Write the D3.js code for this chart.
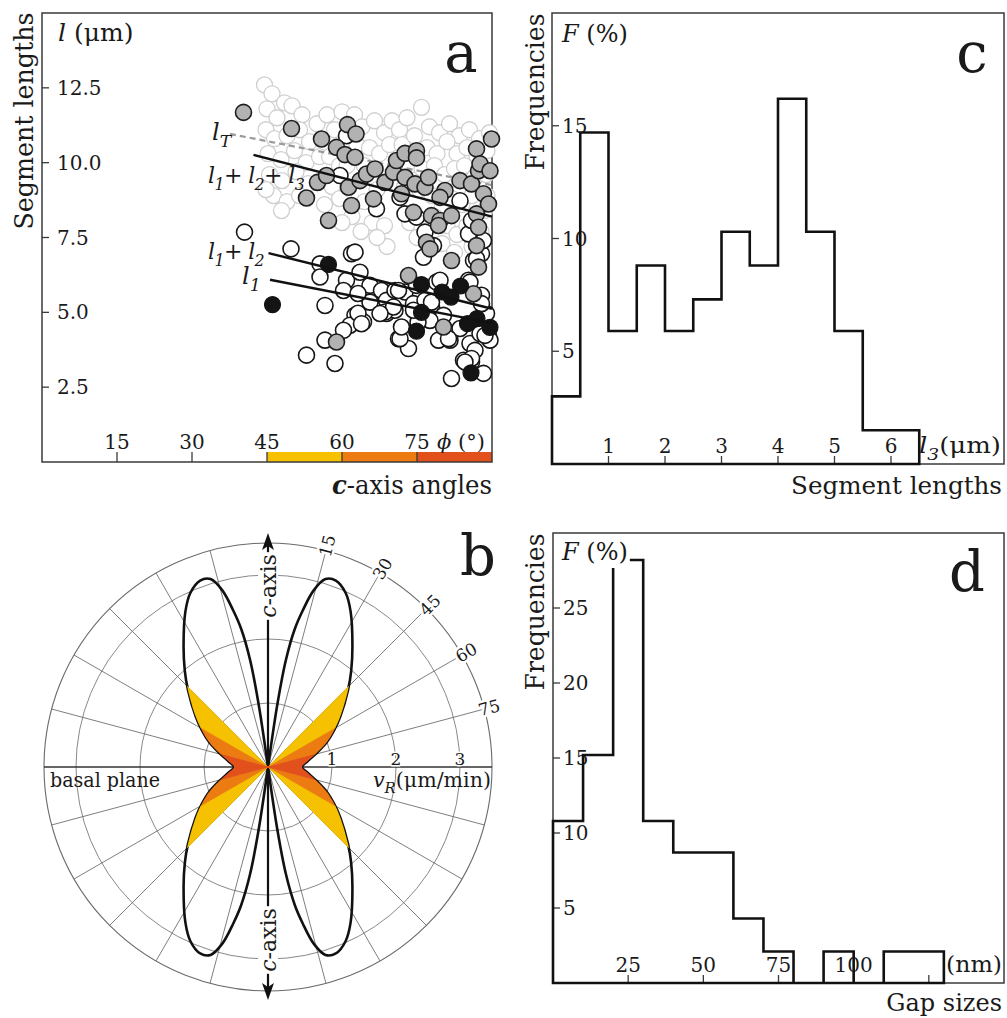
<!DOCTYPE html>
<html><head><meta charset="utf-8">
<script src="https://cdn.jsdelivr.net/npm/d3@7"></script>
<style>
body{margin:0;background:#fff}
svg{display:block}
text{font-family:"DejaVu Serif",serif;fill:#1a1a1a}
</style>
</head><body>
<svg id="chart" width="1007" height="1018"></svg>
<script>
// ---------- Panel a : segment lengths vs c-axis angle ----------
const aXTicks = [15, 30, 45, 60, 75];
const aYTicks = [2.5, 5.0, 7.5, 10.0, 12.5];
const angleClasses = [[45, 60], [60, 75], [75, 90]];
const classColors = ["#f6c100", "#ec7c12", "#e2501c"];
// l_T measurements (faint)
const faintPts = [[44.5,12.6],[46,12.3],[48.5,12.0],[45,11.8],[47,11.5],[50,11.9],[52,11.6],[44.8,11.1],[46.5,10.8],[49,10.9],[51.5,11.1],[53.5,10.7],[55,11.3],[57,11.6],[45.2,10.3],[47.8,10.1],[50.5,10.4],[52.8,10.0],[55.5,10.2],[45.5,9.6],[48,9.4],[50.8,9.7],[53.2,9.3],[46.3,8.9],[49,8.7],[47.9,8.4],[51.5,8.9],[44.8,9.1],
[58.5,11.1],[60,11.7],[62.5,11.6],[64,11.2],[66.5,11.4],[68.5,11.0],[70,11.4],[57.5,10.2],[59.5,9.9],[63,10.6],[65.5,10.5],[67.5,10.3],[69.5,10.6],[58,9.2],[61,9.9],[64.5,9.9],[67,9.1],[69,9.5],[56.5,8.6],[59.5,8.8],[62,8.2],[64.5,8.7],[66,8.0],[68.5,7.9],[60,8.0],[63.8,7.7],[69,7.2],[67,7.5],
[71.5,11.1],[73,11.5],[75.9,11.85],[77.5,11.2],[79.5,11.0],[81.5,11.3],[83.5,10.9],[85.5,11.1],[87.5,10.8],[89.5,11.0],[72,10.6],[74.5,10.9],[77,10.5],[79,10.3],[81,10.7],[83,10.3],[85,10.5],[87,10.2],[89,10.4],[71,9.9],[73.5,9.9],[76,9.8],[78.5,9.9],[80.5,9.6],[82.5,9.8],[84.5,9.9],[86.5,9.5],[88.8,9.6],[72.5,9.2],[75.5,9.1],[78,8.9],[80,8.5],[82,8.8],[84,8.6],[86,8.9],[88.5,8.4],[73.5,8.0],[76,7.8],[78.5,8.2],[81,7.9],[83,7.6],[85,7.9],[87.8,7.7],[80,7.3],[82.5,7.0],[75,7.5],[86,7.2],[89,8.9]];
// l1+l2 measurements (open)
const openPts = [[40.5,7.68],[49.8,7.12],[55.6,6.62],[61.9,6.96],[55.6,6.18],[60.9,6.07],[63.6,6.34],[65.6,5.9],[60.3,5.73],[56.6,5.23],[65.6,5.34],[67.9,5.73],[68.9,5.4],[62.6,4.9],[61.6,4.57],[60.3,4.4],[64.3,4.68],[68.9,4.96],[70.6,5.07],[71.3,4.12],[73.3,3.79],[56.6,4.07],[52.9,3.57],[58.6,3.29],[70.6,5.73],[72.6,5.68],[74.3,5.29],[77.6,5.62],[78.9,6.01],[77.9,5.18],[80.3,4.9],[77.6,4.73],[79.3,4.07],[81.6,4.07],[81.9,2.79],[84.3,3.4],[85.9,3.34],[88.3,2.96],[85.6,3.96],[87.6,4.29],[88.9,4.96],[87.6,5.51],[85.3,6.07],[86.3,6.73],[87.9,6.96],[88.3,7.4],[85.3,7.62],[85.9,8.07],[83.6,8.73],[76.6,7.68],[78.3,7.23],[76.3,6.84],[72.6,8.29],[66.9,8.46],[71.6,8.84],[59.6,9.57],[60.9,10.9],[74.9,8.18],[89.3,4.23],[83.6,4.46],[89.6,4.07],[86.6,3.73],[75.2,4.67],[76.6,5.4],[62.6,7.01],[63.2,5.63],[63.2,4.97],[63.9,4.62],[68.6,5.01],[70.3,5.18],[71.3,5.73],[71.6,4.12],[79.6,6.07],[77.9,5.34],[81.3,4.12],[85.6,6.01],[87.9,5.57],[85.9,3.46],[84.6,3.34],[74.9,5.9],[74.3,5.07],[86.9,6.79],[87.9,5.29],[88.6,4.23],[67.6,4.96],[71.9,4.51]];
// l1+l2+l3 measurements (grey)
const greyPts = [[40.3,11.68],[49.9,11.14],[55.9,10.79],[61.1,11.27],[62.8,10.96],[58.9,10.51],[60.6,10.27],[62.6,10.18],[55.1,9.34],[56.9,9.57],[52.9,8.82],[57.3,8.07],[61.3,9.18],[61.9,8.57],[63.6,9.4],[64.9,9.62],[66.6,9.79],[66.3,8.79],[68.6,9.34],[70.3,9.68],[70.9,10.07],[72.6,10.31],[74.9,10.4],[74.9,10.16],[72.6,9.51],[71.9,8.96],[74.6,9.29],[76.6,9.18],[77.3,9.51],[74.3,8.34],[77.9,8.23],[79.6,8.07],[81.9,8.23],[80.6,9.07],[83.6,9.4],[85.9,9.29],[87.3,9.73],[86.9,10.46],[89.9,10.79],[87.6,9.96],[89.6,9.73],[88.3,8.96],[89.3,8.62],[86.9,8.29],[87.3,7.84],[86.9,7.23],[76.9,7.34],[77.6,7.12],[81.9,6.73],[87.3,6.51],[73.3,6.23],[86.3,5.62],[80.3,4.51],[58.9,4.01],[79.3,7.9],[79.6,8.84]];
// l1 measurements (black)
const blackPts = [[46.1,5.26],[57.3,6.6],[75.9,5.93],[75.9,5.0],[74.9,4.37],[80.0,5.68],[81.8,5.51],[83.7,5.88],[85.1,4.62],[87.0,4.79],[89.6,4.5],[85.8,2.98]];
// regression lines [x0,y0,x1,y1]
const lineLT = [37.6, 10.96, 90, 9.25];
const line123 = [42.3, 10.26, 90, 8.2];
const line12 = [45.3, 6.98, 90, 5.12];
const line1 = [45.6, 6.09, 90, 4.64];

// ---------- Panel b : polar growth rates ----------
const ringValues = [1, 2, 3];
const outerRing = 3.5;
const spokeAngles = d3.range(15, 360, 15).filter(a => a % 90 !== 0);
const angleLabels = [15, 30, 45, 60, 75];
const radialLabels = [1, 2, 3];
const lobePhi = [7, 8.5, 9.5, 11, 12.5, 14.5, 17, 20, 24, 28, 35, 41, 46, 55, 61, 67, 74, 82, 90];
const lobeR =   [0, 1.0, 1.7, 2.2, 2.5, 2.85, 3.07, 3.1, 2.98, 2.75, 2.3, 1.98, 1.74, 1.38, 1.18, 1.0, 0.79, 0.62, 0.53];

// ---------- Panel c : l3 histogram ----------
const cBinStart = [0, 0.5, 1, 1.5, 2, 2.5, 3, 3.5, 4, 4.5, 5, 5.5, 6];
const cFreq = [3.0, 14.7, 5.9, 8.8, 5.9, 7.3, 10.3, 8.8, 16.2, 10.3, 5.9, 1.5, 1.5];
const cBinWidth = 0.5;
const cXTicks = [1, 2, 3, 4, 5, 6];
const cYTicks = [5, 10, 15];

// ---------- Panel d : gap size histogram ----------
const dBinStart = [0, 10, 20, 30, 40, 50, 60, 70, 80, 90, 100, 110, 120];
const dFreq = [10.8, 15.2, 28.2, 10.8, 8.7, 8.7, 4.3, 2.1, 0, 2.1, 0, 2.1, 2.1];
const dBinWidth = 10;
const dXTicks = [25, 50, 75, 100, 125];
const dXLabels = ["25", "50", "75", "100", ""];
const dYTicks = [5, 10, 15, 20, 25];

// ================= drawing =================
const svg = d3.select("#chart");
const FRAME = "#3a3a3a";
const TICK_FS = 20;

function rich(g, parts, o) {
  const t = g.append("text").attr("x", o.x).attr("y", o.y)
    .attr("font-size", o.size).attr("text-anchor", o.anchor || "start");
  if (o.rotate) t.attr("transform", `rotate(${o.rotate},${o.x},${o.y})`);
  if (o.width) t.attr("textLength", o.width).attr("lengthAdjust", "spacingAndGlyphs");
  if (o.baseline) t.attr("dominant-baseline", o.baseline);
  if (o.spacing) t.attr("letter-spacing", o.spacing);
  let shift = 0;
  parts.forEach(p => {
    const s = t.append("tspan").text(p.t);
    if (p.i) s.attr("font-style", "italic");
    if (p.b) s.attr("font-weight", "bold");
    const target = p.sub ? o.size * 0.3 : 0;
    if (target !== shift) { s.attr("dy", target - shift); shift = target; }
    if (p.sub) s.attr("font-size", o.size * 0.72);
  });
  if (o.halo) t.attr("stroke", "#fff").attr("stroke-width", o.halo).attr("paint-order", "stroke").attr("stroke-linejoin", "round");
  return t;
}

// ---------- Panel a ----------
(function () {
  const g = svg.append("g");
  const x = d3.scaleLinear([0, 90], [42, 492]);
  const y = d3.scaleLinear([0, 15], [462, 13]);
  g.selectAll("rect.band").data(angleClasses).join("rect")
    .attr("x", d => x(d[0])).attr("width", d => x(d[1]) - x(d[0]))
    .attr("y", y(0) - 10).attr("height", 10)
    .attr("fill", (d, i) => classColors[i]);
  g.append("rect").attr("x", x(0)).attr("y", y(15)).attr("width", x(90) - x(0)).attr("height", y(0) - y(15))
    .attr("fill", "none").attr("stroke", FRAME).attr("stroke-width", 1.5);
  g.selectAll("line.xt").data(aXTicks).join("line")
    .attr("x1", d => x(d)).attr("x2", d => x(d)).attr("y1", y(0)).attr("y2", y(0) - 10)
    .attr("stroke", FRAME).attr("stroke-width", 1.3);
  g.selectAll("text.xt").data(aXTicks).join("text")
    .attr("x", d => x(d)).attr("y", 449).attr("text-anchor", "middle").attr("font-size", TICK_FS).text(d => d);
  g.selectAll("line.yt").data(aYTicks).join("line")
    .attr("x1", x(0)).attr("x2", x(0) + 7).attr("y1", d => y(d)).attr("y2", d => y(d))
    .attr("stroke", FRAME).attr("stroke-width", 1.3);
  g.selectAll("text.yt").data(aYTicks).join("text")
    .attr("x", 57).attr("y", d => y(d)).attr("dominant-baseline", "central").attr("font-size", TICK_FS)
    .text(d => d.toFixed(1));
  rich(g, [{t: "ϕ", i: true}, {t: " (°)"}], {x: 437, y: 449, size: 21});
  const drawPts = (data, fill, stroke, sw) => g.append("g").selectAll("circle").data(data).join("circle")
    .attr("cx", d => x(d[0])).attr("cy", d => y(d[1])).attr("r", 8)
    .attr("fill", fill).attr("stroke", stroke).attr("stroke-width", sw);
  drawPts(faintPts, "#fff", "#cfcfcf", 1.3);
  g.append("line").attr("x1", x(lineLT[0])).attr("y1", y(lineLT[1])).attr("x2", x(lineLT[2])).attr("y2", y(lineLT[3]))
    .attr("stroke", "#9a9a9a").attr("stroke-width", 2.2).attr("stroke-dasharray", "6,4");
  drawPts(openPts, "#fff", "#161616", 1.6);
  drawPts(greyPts, "#b2b2b2", "#1e1e1e", 1.6);
  drawPts(blackPts, "#141414", "#141414", 1.2);
  [line123, line12, line1].forEach(l => g.append("line")
    .attr("x1", x(l[0])).attr("y1", y(l[1])).attr("x2", x(l[2])).attr("y2", y(l[3]))
    .attr("stroke", "#111").attr("stroke-width", 2.4));
  rich(g, [{t: "l", i: true}, {t: "T", i: true, sub: true}], {x: 212, y: 140, size: 24});
  rich(g, [{t: "l", i: true}, {t: "1", i: true, sub: true}, {t: "+"}, {t: " l", i: true}, {t: "2", i: true, sub: true}, {t: "+"}, {t: " l", i: true}, {t: "3", i: true, sub: true}], {x: 208, y: 183, size: 22, spacing: -0.6});
  rich(g, [{t: "l", i: true}, {t: "1", i: true, sub: true}, {t: "+"}, {t: " l", i: true}, {t: "2", i: true, sub: true}], {x: 208, y: 259, size: 22, spacing: -0.6});
  rich(g, [{t: "l", i: true}, {t: "1", i: true, sub: true}], {x: 242, y: 284, size: 24});
  rich(g, [{t: "Segment lengths"}], {x: 33, y: 121, size: 26, anchor: "middle", rotate: -90, width: 217});
  rich(g, [{t: "l", i: true}, {t: " (μm)"}], {x: 58, y: 41, size: 25});
  rich(g, [{t: "c", i: true, b: true}, {t: "-axis angles"}], {x: 492, y: 494, size: 26, anchor: "end", width: 160});
  g.append("text").attr("x", 461).attr("y", 72).attr("text-anchor", "middle").attr("font-size", 56).text("a");
})();

// ---------- Panel b ----------
(function () {
  const cx = 268, cy = 767;
  const g = svg.append("g").attr("transform", `translate(${cx},${cy})`);
  const r = d3.scaleLinear([0, outerRing], [0, 224]);
  const rad = a => a * Math.PI / 180;
  const quad = lobePhi.map((p, i) => [p, lobeR[i]]);
  const rightHalf = quad.concat(quad.slice(0, -1).reverse().map(d => [180 - d[0], d[1]]));
  const leftHalf = rightHalf.map(d => [360 - d[0], d[1]]);
  const lobeLine = d3.lineRadial().angle(d => rad(d[0])).radius(d => r(d[1])).curve(d3.curveCatmullRom.alpha(0.5));
  const defs = svg.append("defs");
  const clip = defs.append("clipPath").attr("id", "lobeClip");
  clip.append("path").attr("d", lobeLine(rightHalf) + "Z").attr("transform", `translate(${cx},${cy})`);
  clip.append("path").attr("d", lobeLine(leftHalf) + "Z").attr("transform", `translate(${cx},${cy})`);
  const sectors = [];
  angleClasses.forEach((c, i) => {
    sectors.push({a0: c[0], a1: c[1], col: classColors[i]});
    sectors.push({a0: 180 - c[1], a1: 180 - c[0], col: classColors[i]});
    sectors.push({a0: 180 + c[0], a1: 180 + c[1], col: classColors[i]});
    sectors.push({a0: 360 - c[1], a1: 360 - c[0], col: classColors[i]});
  });
  const arc = d3.arc().innerRadius(0).outerRadius(r(outerRing));
  const sg = svg.append("g").attr("clip-path", "url(#lobeClip)").append("g").attr("transform", `translate(${cx},${cy})`);
  sg.selectAll("path").data(sectors).join("path")
    .attr("d", d => arc({startAngle: rad(d.a0), endAngle: rad(d.a1)}))
    .attr("fill", d => d.col).attr("stroke", d => d.col).attr("stroke-width", 0.6);
  g.selectAll("circle.ring").data(ringValues).join("circle").attr("r", d => r(d))
    .attr("fill", "none").attr("stroke", "#7a7a7a").attr("stroke-width", 0.9);
  g.append("circle").attr("r", r(outerRing)).attr("fill", "none").attr("stroke", "#6a6a6a").attr("stroke-width", 1.1);
  g.selectAll("line.spoke").data(spokeAngles).join("line")
    .attr("x1", 0).attr("y1", 0)
    .attr("x2", d => r(outerRing) * Math.sin(rad(d))).attr("y2", d => -r(outerRing) * Math.cos(rad(d)))
    .attr("stroke", "#6f6f6f").attr("stroke-width", 0.9);
  g.append("line").attr("x1", -r(outerRing)).attr("x2", r(outerRing)).attr("y1", 0).attr("y2", 0)
    .attr("stroke", "#333").attr("stroke-width", 1.4);
  g.append("path").attr("d", lobeLine(rightHalf) + "Z").attr("fill", "none").attr("stroke", "#111").attr("stroke-width", 2.6).attr("stroke-linejoin", "round");
  g.append("path").attr("d", lobeLine(leftHalf) + "Z").attr("fill", "none").attr("stroke", "#111").attr("stroke-width", 2.6).attr("stroke-linejoin", "round");
  const top = -234, bot = 233;
  g.append("line").attr("x1", 0).attr("x2", 0).attr("y1", top + 12).attr("y2", bot - 12).attr("stroke", "#111").attr("stroke-width", 2.2);
  g.append("path").attr("d", `M0,${top}L-6,${top + 17}L0,${top + 13}L6,${top + 17}Z`).attr("fill", "#111");
  g.append("path").attr("d", `M0,${bot}L-6,${bot - 17}L0,${bot - 13}L6,${bot - 17}Z`).attr("fill", "#111");
  [-181, 173].forEach(yy => {
    const t = rich(g, [{t: "c", i: true}, {t: "-axis"}], {x: 0, y: yy, size: 22, anchor: "middle", rotate: -90, baseline: "central"});
    const bb = t.node().getBBox();
    g.insert("rect", () => t.node()).attr("x", -10).attr("y", yy - bb.width / 2 - 2).attr("width", 20).attr("height", bb.width + 4).attr("fill", "#fff");
  });
  angleLabels.forEach(a => {
    const R = 229, px = R * Math.sin(rad(a)), py = -R * Math.cos(rad(a));
    rich(g, [{t: String(a)}], {x: px, y: py, size: 17, anchor: "middle", rotate: a - 90, baseline: "central", halo: 5});
  });
  radialLabels.forEach(v => rich(g, [{t: String(v)}], {x: r(v), y: -2, size: 17, anchor: "middle", halo: 3}));
  rich(g, [{t: "basal plane"}], {x: 50 - cx, y: 20, size: 20, width: 110});
  rich(g, [{t: "v", i: true}, {t: "R", i: true, sub: true}, {t: "(μm/min)"}], {x: 491 - cx, y: 20, size: 20, anchor: "end", width: 118});
  svg.append("text").attr("x", 478).attr("y", 575).attr("text-anchor", "middle").attr("font-size", 56).text("b");
})();

// ---------- histogram helper ----------
function histogram(o) {
  const g = svg.append("g");
  const x = d3.scaleLinear(o.xDomain, o.xRange);
  const y = d3.scaleLinear(o.yDomain, o.yRange);
  g.append("rect").attr("x", o.xRange[0]).attr("y", o.yRange[1]).attr("width", o.xRange[1] - o.xRange[0]).attr("height", o.yRange[0] - o.yRange[1])
    .attr("fill", "none").attr("stroke", FRAME).attr("stroke-width", 1.5);
  g.selectAll("line.xt").data(o.xTicks).join("line")
    .attr("x1", d => x(d)).attr("x2", d => x(d)).attr("y1", y(0)).attr("y2", y(0) - 8).attr("stroke", FRAME).attr("stroke-width", 1.3);
  g.selectAll("text.xt").data(o.xTicks).join("text")
    .attr("x", d => x(d)).attr("y", o.xLabelY).attr("text-anchor", "middle").attr("font-size", TICK_FS).text((d, i) => o.xLabels ? o.xLabels[i] : d);
  g.selectAll("line.yt").data(o.yTicks).join("line")
    .attr("x1", o.xRange[0]).attr("x2", o.xRange[0] + 7).attr("y1", d => y(d)).attr("y2", d => y(d)).attr("stroke", FRAME).attr("stroke-width", 1.3);
  g.selectAll("text.yt").data(o.yTicks).join("text")
    .attr("x", o.xRange[0] + 10).attr("y", d => y(d)).attr("dominant-baseline", "central").attr("font-size", TICK_FS).text(d => d);
  const pts = [[o.bins[0], 0]];
  o.bins.forEach((b, i) => { pts.push([b, o.freq[i]]); pts.push([b + o.w, o.freq[i]]); });
  pts.push([o.bins[o.bins.length - 1] + o.w, 0]);
  g.append("path").attr("d", d3.line().x(d => x(d[0])).y(d => y(d[1]))(pts) + "Z")
    .attr("fill", "none").attr("stroke", "#111").attr("stroke-width", 2.6).attr("stroke-linejoin", "miter");
  return {g, x, y};
}

// ---------- Panel c ----------
(function () {
  const h = histogram({xDomain: [0, 8], xRange: [552, 1004], yDomain: [0, 20], yRange: [464, 13],
    xTicks: cXTicks, yTicks: cYTicks, bins: cBinStart, freq: cFreq, w: cBinWidth, xLabelY: 453});
  const g = h.g;
  rich(g, [{t: "F", i: true}, {t: " (%)"}], {x: 562, y: 42, size: 24, halo: 6});
  rich(g, [{t: "l", i: true}, {t: "3", i: true, sub: true}, {t: "(μm)"}], {x: 919, y: 453, size: 22, width: 82});
  rich(g, [{t: "Frequencies"}], {x: 544, y: 92, size: 26, anchor: "middle", rotate: -90, width: 157});
  rich(g, [{t: "Segment lengths"}], {x: 1002, y: 494, size: 24.6, anchor: "end"});
  g.append("text").attr("x", 972).attr("y", 72).attr("text-anchor", "middle").attr("font-size", 56).text("c");
})();

// ---------- Panel d ----------
(function () {
  const h = histogram({xDomain: [0, 150], xRange: [553, 1004], yDomain: [0, 30], yRange: [983, 533],
    xTicks: dXTicks, xLabels: dXLabels, yTicks: dYTicks, bins: dBinStart, freq: dFreq, w: dBinWidth, xLabelY: 972});
  const g = h.g;
  const t = rich(g, [{t: "F", i: true}, {t: " (%)"}], {x: 562, y: 560, size: 24});
  const bb = t.node().getBBox();
  g.insert("rect", () => t.node()).attr("x", bb.x - 2).attr("y", bb.y).attr("width", bb.width + 4).attr("height", bb.height + 2).attr("fill", "#fff");
  rich(g, [{t: "(nm)"}], {x: 946, y: 972, size: 22, width: 56});
  rich(g, [{t: "Frequencies"}], {x: 544, y: 612, size: 26, anchor: "middle", rotate: -90, width: 157});
  rich(g, [{t: "Gap sizes"}], {x: 1002, y: 1011, size: 24, anchor: "end"});
  g.append("text").attr("x", 967).attr("y", 591).attr("text-anchor", "middle").attr("font-size", 56).text("d");
})();
</script>
</body></html>
